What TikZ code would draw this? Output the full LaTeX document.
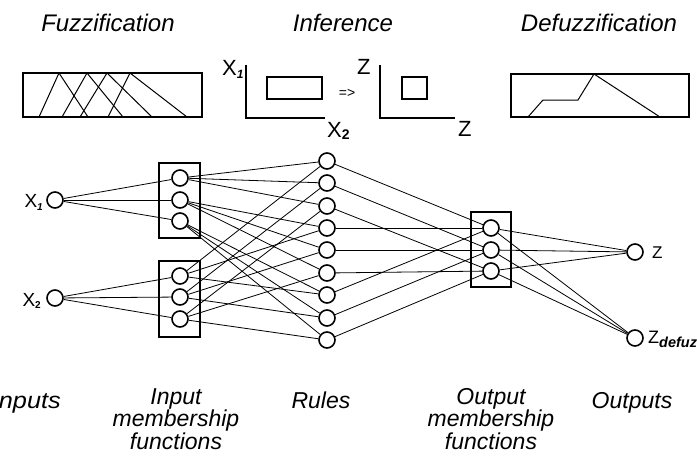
\documentclass[tikz,border=0pt]{standalone}
\usepackage{fontspec}
\setmainfont{Liberation Sans}
\begin{document}
\begin{tikzpicture}[x=1pt,y=-1pt,
  neuron/.style={circle,draw,line width=1.6pt,minimum size=16pt,inner sep=0pt,fill=white},
  conn/.style={line width=0.8pt},
  mfbox/.style={draw,line width=2pt},
  plotline/.style={line width=1.8pt},
  curve/.style={line width=1pt,line join=miter},
  title/.style={font=\fontsize{24}{24}\selectfont\itshape,anchor=base,inner sep=0pt},
  layer/.style={font=\fontsize{23}{20.5}\selectfont\itshape,align=center,anchor=base,inner sep=0pt},
  axlabel/.style={font=\fontsize{22}{22}\selectfont,inner sep=0pt},
  vlabel/.style={font=\fontsize{19}{19}\selectfont,inner sep=0pt}]
\clip (0,0) rectangle (697,456);
\fill[white] (0,0) rectangle (697,456);
% titles
\node[title] (tf) at (108,31) {Fuzzification};
\node[title] (ti) at (343,31) {Inference};
\node[title] (td) at (599,31) {Defuzzification};
% fuzzification plot
\draw[mfbox] (23,73) rectangle (202,117);
\draw[curve] (39,117)--(59,73)--(88,117);
\draw[curve] (62,117)--(87,73)--(123,117);
\draw[curve] (80,117)--(107,73)--(152,117);
\draw[curve] (108,117)--(130,73)--(187,117);
% inference plots
\draw[plotline] (246,65)--(246,118)--(325,118);
\draw[plotline] (267,77) rectangle (322,99);
\node[axlabel,anchor=base west] (lx1) at (222,75) {X\raisebox{-3pt}{\fontsize{12}{12}\selectfont\bfseries\itshape 1}};
\node[axlabel,anchor=base west] (lx2) at (327,137) {X\raisebox{-2pt}{\fontsize{14}{14}\selectfont\bfseries 2}};
\node[font=\fontsize{14}{14}\selectfont,inner sep=0pt] (impl) at (347,93) {=>};
\draw[plotline] (380,65)--(380,118)--(455,118);
\draw[plotline] (402,77) rectangle (427,99);
\node[axlabel,anchor=base west] (lz1) at (357,74) {Z};
\node[axlabel,anchor=base west] (lz2) at (458,136) {Z};
% defuzzification plot
\draw[mfbox] (511,74) rectangle (689,117);
\draw[curve] (528,117)--(543,100)--(578,100)--(594,74)--(660,117);
% network boxes
\draw[mfbox] (159,163) rectangle (200,238);
\draw[mfbox] (159,261) rectangle (200,337);
\draw[mfbox] (471,212) rectangle (511,287);
% neurons
\node[neuron] (x1) at (55,200) {};
\node[neuron] (x2) at (55,298) {};
\node[neuron] (mfA1) at (180,178) {};
\node[neuron] (mfA2) at (180,200) {};
\node[neuron] (mfA3) at (180,221) {};
\node[neuron] (mfB1) at (180,276) {};
\node[neuron] (mfB2) at (180,297) {};
\node[neuron] (mfB3) at (180,319) {};
\foreach \k/\yy in {1/161,2/183,3/206,4/228,5/250,6/273,7/295,8/318,9/340}
  \node[neuron] (r\k) at (327,\yy) {};
\node[neuron] (o1) at (491,228) {};
\node[neuron] (o2) at (491,250) {};
\node[neuron] (o3) at (491,271) {};
\node[neuron] (z) at (635,252) {};
\node[neuron] (zd) at (635,338) {};
% neuron labels
\node[vlabel,anchor=base east] (lx1n) at (43,207) {X\raisebox{-3pt}{\fontsize{10}{10}\selectfont\bfseries\itshape 1}};
\node[vlabel,anchor=base east] (lx2n) at (41,306) {X\raisebox{-2pt}{\fontsize{10}{10}\selectfont\bfseries 2}};
\node[vlabel,anchor=base west,font=\fontsize{17}{17}\selectfont] (lzn) at (652,258) {Z};
\node[vlabel,anchor=base west,font=\fontsize{18}{18}\selectfont] (lzdn) at (648,343) {Z\raisebox{-4pt}{\fontsize{14.5}{14.5}\selectfont\bfseries\itshape defuzz}};
% connectors
\foreach \i in {1,2,3} {
  \draw[conn] (x1)--(mfA\i);
  \draw[conn] (x2)--(mfB\i);
  \draw[conn] (o\i)--(z);
  \draw[conn] (o\i)--(zd);
}
\foreach \k/\a/\b in {1/1/1,2/1/2,3/1/3,4/2/1,5/2/2,6/2/3,7/3/1,8/3/2,9/3/3} {
  \draw[conn] (mfA\a)--(r\k);
  \draw[conn] (mfB\b)--(r\k);
  \draw[conn] (r\k)--(o\b);
}
% layer labels
\node[layer,anchor=base east] (lin) at (61,408) {\scalebox{1.1}[1]{Inputs}};
\node[layer] (limf) at (176,449) {Input\\membership\\functions};
\node[layer] (lrules) at (321,408) {Rules};
\node[layer] (lomf) at (491,449) {Output\\membership\\functions};
\node[layer] (lout) at (632,408) {Outputs};
\end{tikzpicture}
\end{document}
